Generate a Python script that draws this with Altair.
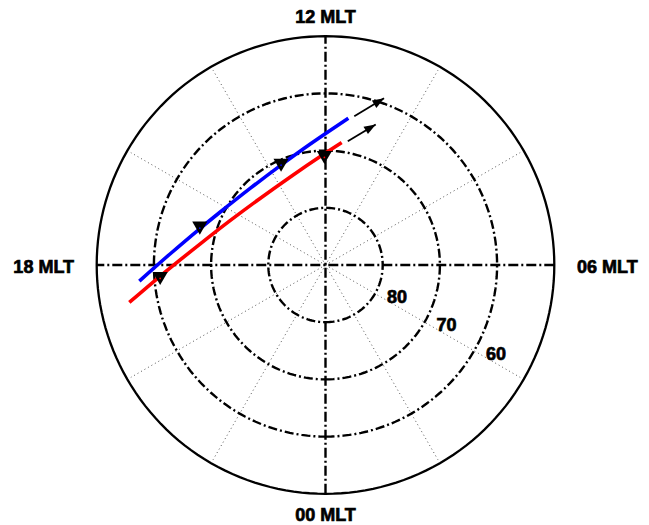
import math
import altair as alt
import pandas as pd

# ---------------- data (magnetic latitude in deg, MLT in hours) ----------------
blue_lat = [57.33, 62.75, 67.15, 69.37, 71.21, 70.88, 68.72, 66.47, 64.05]
blue_mlt = [18.33, 17.73, 16.92, 16.23, 14.97, 13.60, 12.49, 11.87, 11.41]
red_lat = [55.08, 61.0, 67.75, 71.60, 73.68, 73.44, 70.56, 68.4]
red_mlt = [18.72, 18.26, 17.37, 16.34, 14.97, 13.47, 12.04, 11.50]

blue_tri_lat = [67.1, 70.9]
blue_tri_mlt = [16.91, 13.60]
red_tri_lat = [61.0, 71.2]
red_tri_mlt = [18.31, 12.04]

arrow_lat0 = [63.5, 68.0]
arrow_mlt0 = [11.27, 11.32]
arrow_lat1 = [59.1, 63.9]
arrow_mlt1 = [10.71, 10.69]

grid_lats = [80, 70, 60]
outer_lat = 50
radial_mlts = [2, 4, 8, 10, 14, 16, 20, 22]
cardinal_pairs = [(0, 12), (6, 18)]
lat_labels = ["80", "70", "60"]
lat_label_mlt = 4
mlt_labels = ["12 MLT", "00 MLT", "18 MLT", "06 MLT"]
mlt_label_pos = [12, 0, 18, 6]


def polar(lat, mlt):
    c = 90.0 - lat
    t = math.radians(mlt * 15.0)
    return c * math.sin(t), -c * math.cos(t)


def line_df(lats, mlts, gid=0):
    rows = []
    for i, (la, m) in enumerate(zip(lats, mlts)):
        x, y = polar(la, m)
        rows.append({"x": x, "y": y, "i": i, "g": gid})
    return pd.DataFrame(rows)


# ---------------- scales ----------------
PX = 5.72          # pixels per degree of colatitude
W, H = 633, 509
CX, CY = 317.5, 257.0
xs = alt.Scale(domain=[-CX / PX, (W - CX) / PX], nice=False, zero=False)
ys = alt.Scale(domain=[CY / PX - H / PX, CY / PX], nice=False, zero=False)


def enc(chart, line=True):
    e = dict(x=alt.X("x:Q", scale=xs, axis=None), y=alt.Y("y:Q", scale=ys, axis=None))
    if line:
        e["order"] = alt.Order("i:Q")
        e["detail"] = alt.Detail("g:N")
    return chart.encode(**e)


DASHDOT = [9, 3, 2, 3]
FONT = dict(font="Liberation Sans", fontWeight="bold", fontSize=18, color="black",
            stroke="black", strokeWidth=0.7, align="center", baseline="middle")

# grid circles
circ_rows = []
for gi, la in enumerate(grid_lats):
    for k in range(0, 361, 2):
        x, y = polar(la, k / 15.0)
        circ_rows.append({"x": x, "y": y, "i": k, "g": gi})
circles = enc(alt.Chart(pd.DataFrame(circ_rows)).mark_line(
    color="black", strokeWidth=2.4, strokeDash=DASHDOT))

outer_rows = []
for k in range(0, 361, 2):
    x, y = polar(outer_lat, k / 15.0)
    outer_rows.append({"x": x, "y": y, "i": k, "g": 0})
outer = enc(alt.Chart(pd.DataFrame(outer_rows)).mark_line(color="black", strokeWidth=2.3))

# dotted radial lines
rad_rows = []
for gi, m in enumerate(radial_mlts):
    for i, la in enumerate([90.0, outer_lat + 0.7]):
        x, y = polar(la, m)
        rad_rows.append({"x": x, "y": y, "i": i, "g": gi})
radials = enc(alt.Chart(pd.DataFrame(rad_rows)).mark_line(
    color="#555555", strokeWidth=1, strokeDash=[1, 3]))

# cardinal dash-dot lines
card_rows = []
for gi, (m0, m1) in enumerate(cardinal_pairs):
    for i, m in enumerate([m0, m1]):
        x, y = polar(outer_lat, m)
        card_rows.append({"x": x, "y": y, "i": i, "g": gi})
cardinals = enc(alt.Chart(pd.DataFrame(card_rows)).mark_line(
    color="black", strokeWidth=2.4, strokeDash=[10, 3, 2, 3]))

# tracks
blue_line = enc(alt.Chart(line_df(blue_lat, blue_mlt)).mark_line(
    color="#0000ff", strokeWidth=3.6, interpolate="monotone"))
red_line = enc(alt.Chart(line_df(red_lat, red_mlt)).mark_line(
    color="#ff0000", strokeWidth=3.6, interpolate="monotone"))

tri_df = pd.concat([line_df(blue_tri_lat, blue_tri_mlt).assign(c="#0000ff"),
                    line_df(red_tri_lat, red_tri_mlt).assign(c="#ff0000")])
tris = enc(alt.Chart(tri_df).mark_point(shape="triangle-down", filled=True, size=230,
                                        color="black", opacity=1), line=False)
tri_dots = enc(alt.Chart(tri_df).mark_point(filled=True, size=3, opacity=1), line=False).encode(
    color=alt.Color("c:N", scale=None))

# arrows
arr_rows = []
head_rows = []
for gi in range(len(arrow_lat0)):
    x0, y0 = polar(arrow_lat0[gi], arrow_mlt0[gi])
    x1, y1 = polar(arrow_lat1[gi], arrow_mlt1[gi])
    arr_rows.append({"x": x0, "y": y0, "i": 0, "g": gi})
    arr_rows.append({"x": x1, "y": y1, "i": 1, "g": gi})
    ang = math.degrees(math.atan2(x1 - x0, y1 - y0)) % 360
    head_rows.append({"x": x1, "y": y1, "ang": ang})
shafts = enc(alt.Chart(pd.DataFrame(arr_rows)).mark_line(color="black", strokeWidth=1.8))
heads = enc(alt.Chart(pd.DataFrame(head_rows)).mark_point(
    shape="M0,0L0.75,2L-0.75,2Z", filled=True, size=135, color="black", opacity=1), line=False).encode(
    angle=alt.Angle("ang:Q", scale=None))

# latitude labels
lab_rows = []
for t, la in zip(lat_labels, grid_lats):
    x, y = polar(la, lat_label_mlt)
    lab_rows.append({"x": x, "y": y, "t": t})
lat_text = enc(alt.Chart(pd.DataFrame(lab_rows)).mark_text(dx=22, dy=4, **FONT),
               line=False).encode(text="t:N")

# MLT labels
offsets = {12: (0, -18.5), 0: (0, 22), 18: (-53, 2.5), 6: (53, 2.5)}
mlt_layers = []
for t, m in zip(mlt_labels, mlt_label_pos):
    x, y = polar(outer_lat, m)
    dx, dy = offsets[m]
    mlt_layers.append(enc(alt.Chart(pd.DataFrame([{"x": x, "y": y, "t": t}])).mark_text(
        dx=dx, dy=dy, **FONT), line=False).encode(text="t:N"))

chart = alt.layer(
    radials, circles, cardinals, outer,
    blue_line, red_line, shafts, heads, tris, tri_dots, lat_text, *mlt_layers
).properties(width=W, height=H, padding=0).configure_view(strokeWidth=0)

chart.save("out.html", embed_options={"renderer": "svg", "actions": False})
